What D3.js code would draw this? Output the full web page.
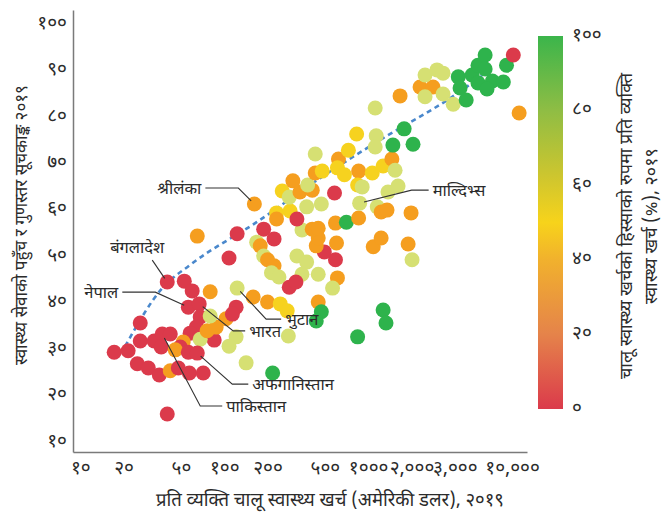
<!DOCTYPE html>
<html>
<head>
<meta charset="utf-8">
<script src="https://cdn.jsdelivr.net/npm/d3@7"></script>
<style>
  body { margin: 0; background: #fff; }
  svg text { font-family: "Noto Sans Devanagari", "Noto Sans", "DejaVu Sans", sans-serif; fill: #2b2b2b; }
</style>
</head>
<body>
<svg id="chart" width="667" height="516"></svg>
<script>
// [प्रति व्यक्ति खर्च USD, सूचकाङ्क, चालू खर्चमा हिस्सा %]
const countries = [
  [17.2, 28.9, 10], [21.5, 29.2, 10], [26.1, 35.2, 10], [26.1, 31.3, 10], [24.9, 26.4, 10],
  [29.7, 25.5, 10], [35.4, 24.0, 10], [32.6, 31.3, 10], [37.1, 32.8, 10], [42.2, 32.8, 10],
  [36.5, 30.0, 10], [40.2, 44.0, 10], [52.8, 44.2, 10], [59.9, 42.1, 10], [56.3, 38.6, 10],
  [67.0, 39.3, 10], [68.1, 36.5, 10], [64.0, 34.3, 10], [58.0, 33.0, 10], [79.9, 41.9, 30],
  [85.2, 31.5, 10], [68.1, 31.7, 60], [76.1, 33.5, 30], [88.0, 34.3, 30], [103, 36.1, 30],
  [121, 38.6, 10], [114, 37.1, 10], [79.9, 36.7, 60], [121, 32.2, 60], [108, 30.2, 60],
  [142, 26.6, 60], [123, 42.7, 60], [159, 40.8, 30], [200, 39.7, 30], [245, 39.3, 45],
  [274, 37.8, 45], [279, 32.4, 60], [217, 24.4, 85], [51.9, 31.1, 30], [49.5, 30.0, 10],
  [45.7, 29.4, 30], [56.3, 28.9, 10], [65.0, 28.7, 10], [42.2, 24.9, 30], [48.0, 25.5, 10],
  [57.2, 24.4, 10], [71.5, 24.4, 10], [40.2, 15.6, 10],
  [65.0, 53.9, 30], [108, 49.2, 10], [123, 54.4, 10], [162, 60.8, 30], [188, 55.4, 10],
  [222, 53.3, 10], [168, 52.6, 60], [178, 51.8, 30], [188, 49.6, 60], [200, 48.8, 30],
  [222, 47.5, 30], [213, 46.0, 60], [240, 45.1, 60], [320, 49.6, 60], [374, 48.3, 60],
  [347, 45.7, 60], [450, 45.7, 60], [283, 42.9, 10], [315, 44.0, 10], [612, 44.9, 30],
  [566, 42.7, 60], [450, 39.7, 30], [473, 37.6, 85], [436, 35.6, 85], [1271, 38.0, 85],
  [1331, 35.2, 85], [845, 32.2, 85], [593, 48.8, 10], [496, 50.5, 10], [603, 52.4, 30],
  [436, 51.8, 30], [450, 53.5, 30], [347, 55.2, 60], [409, 55.4, 30], [450, 55.6, 30],
  [593, 56.7, 30], [706, 56.9, 85], [859, 57.8, 30], [1085, 51.6, 30], [1231, 53.5, 30],
  [1896, 52.2, 30], [2019, 48.8, 60], [873, 61.0, 60], [1157, 60.2, 60], [1231, 59.1, 30],
  [1353, 59.5, 30], [1987, 58.9, 30], [374, 60.2, 60], [473, 60.8, 60], [231, 58.9, 45],
  [287, 59.3, 45], [231, 57.6, 30], [320, 57.6, 10], [253, 63.6, 45], [283, 62.3, 60],
  [300, 65.8, 30], [336, 63.4, 30], [409, 63.8, 30], [380, 64.9, 60], [429, 67.5, 30],
  [480, 67.9, 45], [429, 71.6, 60], [622, 70.5, 30], [612, 68.6, 45], [684, 67.1, 45],
  [584, 63.2, 10], [729, 72.4, 45], [832, 75.9, 45], [1138, 75.5, 60], [1120, 73.1, 60],
  [859, 67.9, 30], [1068, 67.5, 45], [1271, 69.0, 45], [1462, 70.5, 30], [1539, 68.1, 60],
  [845, 64.9, 45], [909, 64.5, 60], [1374, 63.4, 60], [1614, 64.7, 60], [1486, 73.5, 85],
  [2051, 73.7, 85], [1779, 77.0, 85], [1120, 81.5, 60], [1667, 84.1, 30], [2296, 86.0, 30],
  [2822, 86.0, 30], [2485, 88.6, 60], [3010, 89.7, 60], [3315, 89.0, 60], [2485, 83.9, 60],
  [3315, 84.5, 60], [3900, 82.3, 60], [4230, 88.2, 85], [5280, 88.6, 85], [5800, 90.7, 85],
  [6500, 92.9, 85], [6500, 89.9, 85], [7300, 87.3, 85], [8700, 87.1, 85], [5800, 86.9, 85],
  [6700, 85.6, 85], [4353, 85.8, 85], [4800, 83.2, 85], [9150, 90.7, 85], [10200, 92.9, 10],
  [11200, 80.4, 30]
];

// नीलो धर्सो (सीमा रेखा)
const frontier = [
  [20.5, 30.2], [37.1, 42.7], [58, 47.7], [168, 56.9], [464, 66.4],
  [1271, 75.0], [3710, 83.6], [6190, 88.4]
];

const xTicks = [10, 20, 50, 100, 200, 500, 1000, 2000, 4000, 10000];
const xTickLabels = ["१०", "२०", "५०", "१००", "२००", "५००", "१०००", "२,०००", "३,०००", "१०,०००"];
const yTicks = [10, 20, 30, 40, 50, 60, 70, 80, 90, 100];
const yTickLabels = ["१०", "२०", "३०", "४०", "५०", "६०", "७०", "८०", "९०", "१००"];
const colorTicks = [0, 20, 40, 60, 80, 100];
const colorTickLabels = ["०", "२०", "४०", "६०", "८०", "१००"];

const shareBins = [20, 40, 50, 70];
const binColors = ["#db3a4b", "#f59e1f", "#f6d21f", "#d6e073", "#2eb34c"];
const gradStops = [
  [0, "#db3a4b"], [0.2, "#e5834a"], [0.4, "#f1b12d"], [0.5, "#f7d31b"],
  [0.62, "#cfc62e"], [0.8, "#8fbd44"], [1, "#3bb54b"]
];

// देशको नाम, बिन्दु, मोड (px), पुच्छर (px)
const callouts = [
  { name: "श्रीलंका", p: [162, 60.8], bend: [-16, -16], tail: -33 },
  { name: "बंगलादेश", p: [40.2, 44.0], bend: [-15, -22], tail: 0, label: [-15, -13] },
  { name: "नेपाल", p: [56.3, 38.6], bend: [-33, -15], tail: -33 },
  { name: "भारत", p: [67.0, 39.3], bend: [34, 27], tail: 12 },
  { name: "भुटान", p: [123, 42.7], bend: [29, 31], tail: 15 },
  { name: "अफगानिस्तान", p: [65.0, 28.7], bend: [35, 31], tail: 16 },
  { name: "पाकिस्तान", p: [37.1, 32.8], bend: [38, 72], tail: 22 },
  { name: "माल्दिभ्स", p: [873, 61.0], bend: [52, -13], tail: 17 }
];

const svg = d3.select("#chart");

const x = d3.scaleLog().domain([8.9, 12700]).range([73, 527]);
const y = d3.scaleLinear().domain([7.4, 102.6]).range([452, 10]);
const color = d3.scaleThreshold().domain(shareBins).range(binColors);

// अक्षहरू
const xAxis = svg.append("g")
  .attr("transform", "translate(0,452)")
  .call(d3.axisBottom(x).tickValues(xTicks).tickSize(0).tickPadding(9)
    .tickFormat((d, i) => xTickLabels[i]));
const yAxis = svg.append("g")
  .attr("transform", "translate(73,0)")
  .call(d3.axisLeft(y).tickValues(yTicks).tickSize(0).tickPadding(6)
    .tickFormat((d, i) => yTickLabels[i]));

[xAxis, yAxis].forEach(a => {
  a.select(".domain").attr("stroke", "#7a7a7a").attr("stroke-width", 1.5);
  a.selectAll("text").style("font-size", "19px").attr("fill", "#333");
});

// सीमा रेखा
svg.append("path")
  .datum(frontier)
  .attr("fill", "none")
  .attr("stroke", "#4a88cc")
  .attr("stroke-width", 2.6)
  .attr("stroke-dasharray", "5,4")
  .attr("d", d3.line().x(d => x(d[0])).y(d => y(d[1])).curve(d3.curveMonotoneX));

// बिन्दुहरू
svg.append("g")
  .selectAll("circle")
  .data(countries)
  .enter()
  .append("circle")
  .attr("cx", d => x(d[0]))
  .attr("cy", d => y(d[1]))
  .attr("r", 7.5)
  .attr("fill", d => color(d[2]));

// देशका नाम
const ann = svg.append("g");
callouts.forEach(c => {
  const px = x(c.p[0]), py = y(c.p[1]);
  const bx = px + c.bend[0], by = py + c.bend[1];
  const len = Math.hypot(c.bend[0], c.bend[1]);
  const sx = px + c.bend[0] / len * 4.5, sy = py + c.bend[1] / len * 4.5;
  const ex = bx + c.tail;
  ann.append("path")
    .attr("d", `M${sx},${sy}L${bx},${by}L${ex},${by}`)
    .attr("fill", "none")
    .attr("stroke", "#333")
    .attr("stroke-width", 1.1);
  let lx, ly, anchor;
  if (c.label) {
    lx = bx + c.label[0]; ly = by + c.label[1]; anchor = "middle";
  } else if (c.tail < 0) {
    lx = ex - 4; ly = by; anchor = "end";
  } else {
    lx = ex + 4; ly = by; anchor = "start";
  }
  ann.append("text")
    .attr("x", lx).attr("y", ly)
    .attr("dy", "0.35em")
    .attr("text-anchor", anchor)
    .style("font-size", "16.5px")
    .text(c.name);
});

// अक्ष शीर्षक
svg.append("text")
  .attr("x", 330).attr("y", 506)
  .attr("text-anchor", "middle")
  .style("font-size", "18.5px")
  .text("प्रति व्यक्ति चालू स्वास्थ्य खर्च (अमेरिकी डलर), २०१९");

svg.append("text")
  .attr("transform", "translate(21,225) rotate(-90)")
  .attr("text-anchor", "middle")
  .attr("dy", "0.35em")
  .style("font-size", "17px")
  .text("स्वास्थ्य सेवाको पहुँच र गुणस्तर सूचकाङ्क २०१९");

// रंग पट्टी
const defs = svg.append("defs");
const grad = defs.append("linearGradient")
  .attr("id", "shareGrad")
  .attr("x1", 0).attr("y1", 1).attr("x2", 0).attr("y2", 0);
grad.selectAll("stop")
  .data(gradStops)
  .enter()
  .append("stop")
  .attr("offset", d => d[0])
  .attr("stop-color", d => d[1]);

svg.append("rect")
  .attr("x", 538).attr("y", 36)
  .attr("width", 25).attr("height", 373)
  .attr("fill", "url(#shareGrad)");

const cScale = d3.scaleLinear().domain([0, 100]).range([407, 34]);
svg.append("g")
  .selectAll("text")
  .data(colorTicks)
  .enter()
  .append("text")
  .attr("x", 572)
  .attr("y", d => cScale(d))
  .attr("dy", "0.35em")
  .style("font-size", "19px")
  .attr("fill", "#333")
  .text((d, i) => colorTickLabels[i]);

const ct = svg.append("text")
  .attr("transform", "translate(626,226) rotate(-90)")
  .attr("text-anchor", "middle")
  .style("font-size", "18px");
ct.append("tspan").attr("x", 0).attr("dy", "0.35em")
  .text("चालू स्वास्थ्य खर्चको हिस्साको रुपमा प्रति व्यक्ति");
ct.append("tspan").attr("x", 0).attr("dy", "1.4em")
  .text("स्वास्थ्य खर्च (%), २०१९");
</script>
</body>
</html>
